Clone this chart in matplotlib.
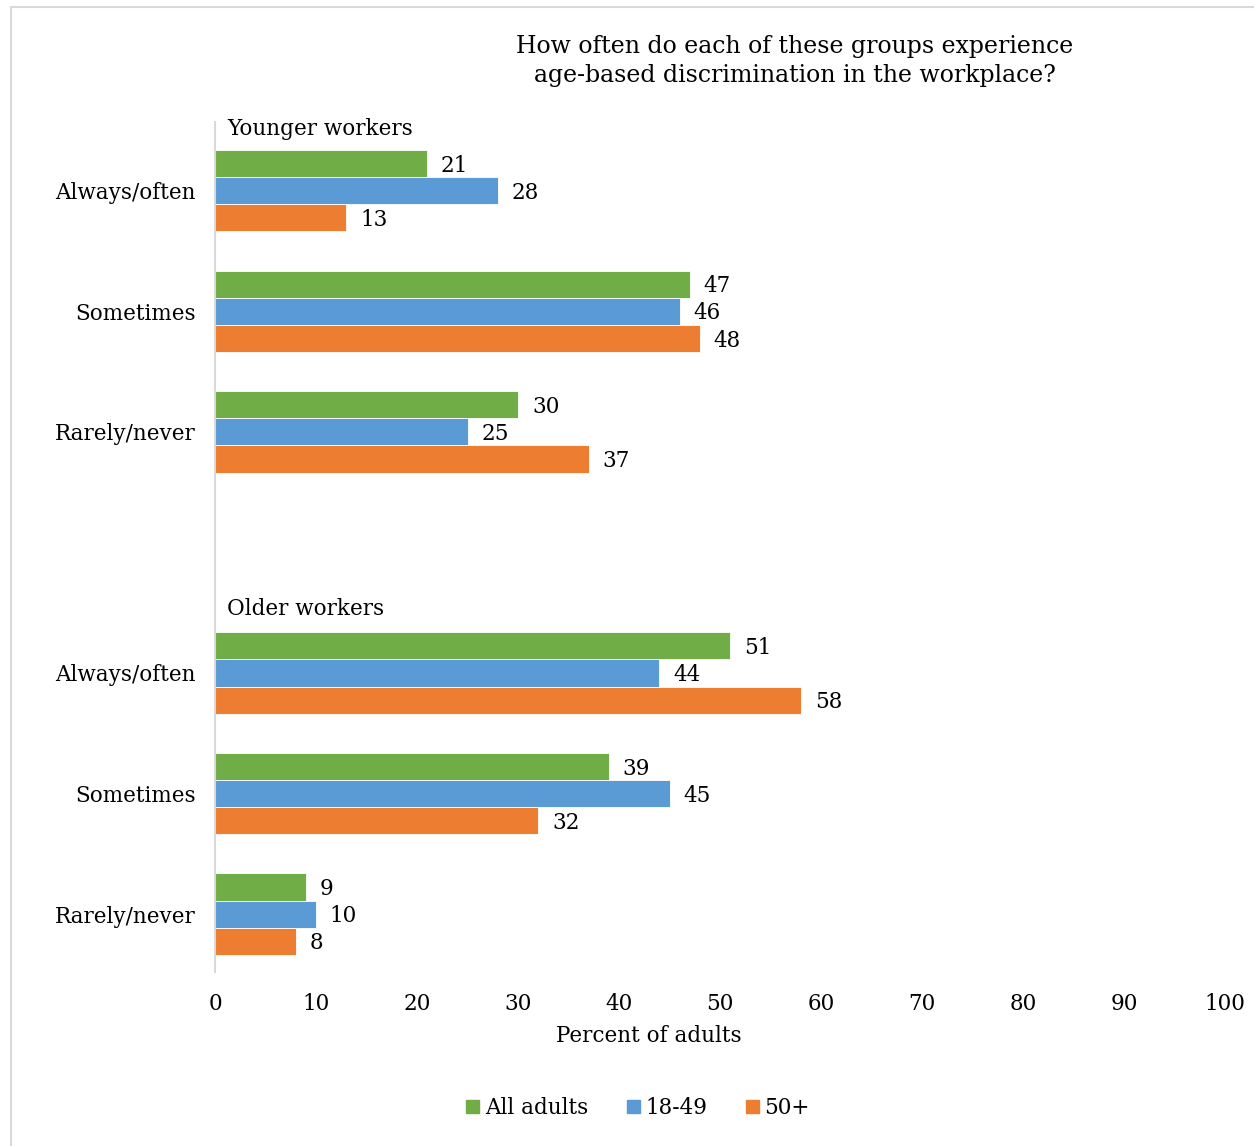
import matplotlib
matplotlib.use("Agg")
import matplotlib.pyplot as plt
from matplotlib.patches import Patch, Rectangle
import numpy as np

plt.rcParams['font.family'] = ['DejaVu Serif']

categories = ['Always/often', 'Sometimes', 'Rarely/never',
              'Always/often', 'Sometimes', 'Rarely/never']
groups = ['Younger workers', 'Older workers']
series = ['All adults', '18-49', '50+']
all_adults = [21, 47, 30, 51, 39, 9]
age_18_49 = [28, 46, 25, 44, 45, 10]
age_50plus = [13, 48, 37, 58, 32, 8]
colors = ['#70AD47', '#5B9BD5', '#ED7D31']

pos = np.array([0, 1, 2, 4, 5, 6])
h = 0.225
fs = 15.5

fig = plt.figure(figsize=(12.54, 11.46), dpi=100)
ax = fig.add_axes([215/1254, 1-972/1146, 1010/1254, 850/1146])

# light frame around the picture
fig.patches.append(Rectangle((11/1254, -0.1), 1.2, 1-7/1146+0.1,
                             transform=fig.transFigure, fill=False,
                             edgecolor='#d9d9d9', linewidth=1.5))

for k, (vals, c) in enumerate(zip([all_adults, age_18_49, age_50plus], colors)):
    y = pos + (k - 1) * h
    ax.barh(y, vals, height=h, color=c, edgecolor='white', linewidth=0.6)
    for yy, v in zip(y, vals):
        ax.annotate(str(v), (v, yy), xytext=(10, -1.5), textcoords='offset points',
                    va='center', ha='left', fontsize=fs)

ax.text(1.2, -0.515, groups[0], fontsize=fs, va='center', ha='left')
ax.text(1.2, 3.47, groups[1], fontsize=fs, va='center', ha='left')

ax.set_xlim(0, 100)
ax.set_ylim(6.48, -0.57)
ax.set_xticks(range(0, 101, 10))
ax.set_yticks(pos)
ax.set_yticklabels(categories)
ax.tick_params(axis='both', length=0, labelsize=fs)
ax.tick_params(axis='x', pad=15)
ax.tick_params(axis='y', pad=14)
for s in ['top', 'right', 'bottom']:
    ax.spines[s].set_visible(False)
ax.spines['left'].set_color('#d9d9d9')
ax.spines['left'].set_linewidth(1.5)

fig.text(649/1254, 1-1036/1146, 'Percent of adults', ha='center', va='center', fontsize=fs)
fig.text(795/1254, 1-61/1146,
         'How often do each of these groups experience\nage-based discrimination in the workplace?',
         ha='center', va='center', fontsize=17, linespacing=1.3)

handles = [Patch(color=c, label=s) for c, s in zip(colors, series)]
fig.legend(handles=handles, loc='center', bbox_to_anchor=(638/1254, 1-1108/1146),
           ncol=3, frameon=False, fontsize=fs, handlelength=0.6, handleheight=0.6,
           handletextpad=0.25, columnspacing=1.8)

fig.savefig('out.png', dpi=100)
